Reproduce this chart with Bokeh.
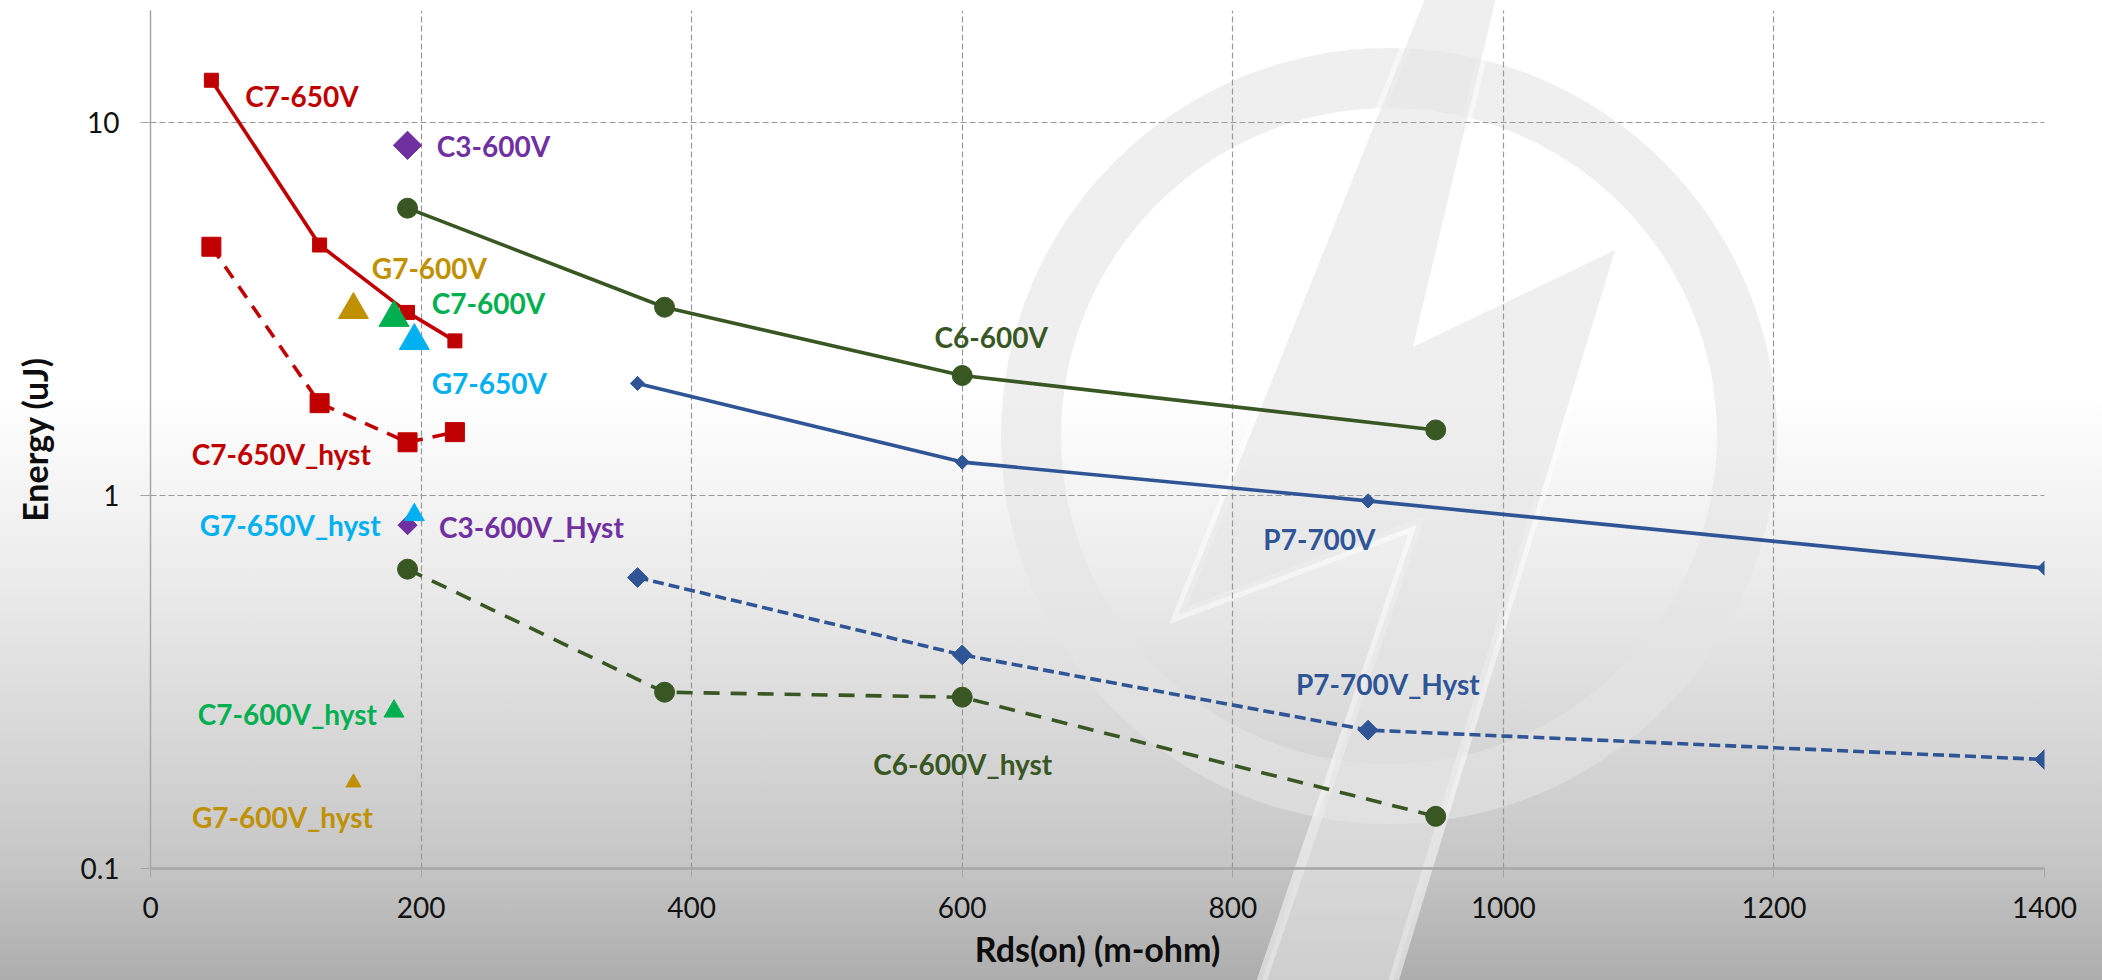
import math
import urllib.parse
from bokeh.plotting import figure
from bokeh.models import Range1d, FixedTicker, CustomJSTickFormatter, ColumnDataSource
from bokeh.core.properties import value
from bokeh.embed import file_html
from bokeh.resources import INLINE

# ---------------- data ----------------
c7_650_x = [45, 125, 190, 225]
c7_650_y = [13.0, 4.7, 3.1, 2.6]
c7_650_hyst_y = [4.65, 1.77, 1.39, 1.48]

c6_600_x = [190, 380, 600, 950]
c6_600_y = [5.9, 3.2, 2.1, 1.5]
c6_600_hyst_y = [0.635, 0.297, 0.288, 0.138]

p7_700_x = [360, 600, 900, 1400]
p7_700_y = [2.0, 1.23, 0.968, 0.639]
p7_700_hyst_y = [0.603, 0.374, 0.235, 0.196]

c3_600_x = [190]
c3_600_y = [8.7]
c3_600_hyst_y = [0.833]

g7_600_x = [150]
g7_600_y = [3.15]
g7_600_hyst_y = [0.17]

c7_600_x = [180]
c7_600_y = [3.0]
c7_600_hyst_y = [0.264]

g7_650_x = [195]
g7_650_y = [2.6]
g7_650_hyst_y = [0.888]

x_ticks = [0, 200, 400, 600, 800, 1000, 1200, 1400]
y_ticks = [0.1, 1, 10]

label_text = ["C7-650V", "C3-600V", "G7-600V", "C7-600V", "G7-650V",
              "C7-650V_hyst", "G7-650V_hyst", "C3-600V_Hyst", "C7-600V_hyst",
              "G7-600V_hyst", "C6-600V", "C6-600V_hyst", "P7-700V", "P7-700V_Hyst"]

# ---------------- styles ----------------
RED = "#C00000"
PURPLE = "#7030A0"
GOLD = "#BF9000"
GREEN = "#00B050"
CYAN = "#00B0F0"
DKGREEN = "#385723"
BLUE = "#2F5597"

label_color = [RED, PURPLE, GOLD, GREEN, CYAN, RED, CYAN, PURPLE, GREEN, GOLD,
               DKGREEN, DKGREEN, BLUE, BLUE]
label_x = [70, 211.6, 163.6, 207.9, 207.9, 30.5, 36.4, 213.2, 35.0, 30.7,
           579.5, 534.2, 822.6, 846.7]
label_y = [11.82, 8.68, 4.09, 3.29, 2.01, 1.296, 0.836, 0.824, 0.26, 0.1374,
           2.667, 0.191, 0.763, 0.3124]

W, H = 2102, 980

p = figure(width=W, height=H, output_backend="svg", toolbar_location=None,
           x_range=Range1d(0, 1400), y_range=Range1d(0.1, 20), y_axis_type="log",
           min_border_left=150, min_border_right=58, min_border_top=10,
           min_border_bottom=112)
p.outline_line_color = None
p.background_fill_color = None
p.border_fill_color = None

# background: gradient + faint logo watermark (decoration only)
cx, cy, R, r = 1389, 436, 388, 328
ring = (f"M{cx-R},{cy} a{R},{R} 0 1,0 {2*R},0 a{R},{R} 0 1,0 {-2*R},0 Z "
        f"M{cx-r},{cy} a{r},{r} 0 1,0 {2*r},0 a{r},{r} 0 1,0 {-2*r},0 Z")
bolt = "1427.6,-8 1497.4,-8 1412.9,346.9 1615,250 1390.8,990 1258.6,990 1416.6,525 1177.8,615.6"
svg = (f'<svg xmlns="http://www.w3.org/2000/svg" width="{W}" height="{H}" viewBox="0 0 {W} {H}">'
       f'<path d="{ring}" fill="rgba(228,228,228,0.6)" fill-rule="evenodd"/>'
       f'<polygon points="{bolt}" fill="rgba(228,228,228,0.6)" stroke="rgba(255,255,255,0.5)" '
       f'stroke-width="10" stroke-linejoin="miter" paint-order="stroke"/></svg>')
svg_url = 'url("data:image/svg+xml,' + urllib.parse.quote(svg) + '")'
grad = ("linear-gradient(to bottom, #ffffff 0%, #ffffff 40%, #ececec 58%, "
        "#d9d9d9 74%, #c6c6c6 88%, #adadad 100%)")
p.styles = {"background": f"{svg_url} no-repeat, {grad}"}

# axes
p.xaxis.ticker = FixedTicker(ticks=x_ticks)
p.yaxis.ticker = FixedTicker(ticks=y_ticks)
p.yaxis.formatter = CustomJSTickFormatter(code="return tick.toString();")
for ax in (p.xaxis[0], p.yaxis[0]):
    ax.axis_line_color = "#a6a6a6"
    ax.major_tick_line_color = "#a6a6a6"
    ax.minor_tick_line_color = None
    ax.major_tick_in = 0
    ax.major_label_text_font = "Lato"
    ax.major_label_text_font_size = "28px"
    ax.major_label_text_color = "#111111"
    ax.axis_label_text_font = "Lato"
    ax.axis_label_text_font_style = "bold"
    ax.axis_label_text_font_size = "34px"
    ax.axis_label_text_color = "#0d0d0d"
p.xaxis.axis_line_width = 2.5
p.yaxis.axis_line_width = 1.5
p.xaxis.major_tick_out = 9
p.yaxis.major_tick_out = 10
p.xaxis.major_label_standoff = 19
p.yaxis.major_label_standoff = 21
p.xaxis.axis_label = "Rds(on) (m-ohm)"
p.yaxis.axis_label = "Energy (uJ)"
p.xaxis.axis_label_standoff = 7
p.yaxis.axis_label_standoff = 22

for g in (p.xgrid[0], p.ygrid[0]):
    g.grid_line_color = "#999999"
    g.grid_line_dash = "6 3"
    g.grid_line_width = 1.2

# ---------------- series ----------------
LW = 3.6
# C6-600V
p.line(c6_600_x, c6_600_y, line_color=DKGREEN, line_width=LW)
p.scatter(c6_600_x, c6_600_y, marker="circle", size=20, color=DKGREEN)
p.line(c6_600_x, c6_600_hyst_y, line_color=DKGREEN, line_width=LW, line_dash="16 11")
p.scatter(c6_600_x, c6_600_hyst_y, marker="circle", size=20, color=DKGREEN)

# P7-700V
p.line(p7_700_x, p7_700_y, line_color=BLUE, line_width=LW)
p.scatter(p7_700_x, p7_700_y, marker="square", angle=math.pi / 4, size=10, color=BLUE)
p.line(p7_700_x, p7_700_hyst_y, line_color=BLUE, line_width=LW, line_dash="11 5")
p.scatter(p7_700_x, p7_700_hyst_y, marker="square", angle=math.pi / 4, size=14, color=BLUE)

# C7-650V
p.line(c7_650_x, c7_650_y, line_color=RED, line_width=LW)
p.scatter(c7_650_x, c7_650_y, marker="square", size=14, color=RED)
p.line(c7_650_x, c7_650_hyst_y, line_color=RED, line_width=LW, line_dash="14 10")
p.scatter(c7_650_x, c7_650_hyst_y, marker="square", size=19, color=RED)

# single-point series
p.scatter(c3_600_x, c3_600_y, marker="square", angle=math.pi / 4, size=20, color=PURPLE)
p.scatter(c3_600_x, c3_600_hyst_y, marker="square", angle=math.pi / 4, size=13.5, color=PURPLE)
p.scatter(g7_600_x, g7_600_y, marker="triangle", size=30, color=GOLD)
p.scatter(g7_600_x, g7_600_hyst_y, marker="triangle", size=15, color=GOLD)
p.scatter(c7_600_x, c7_600_y, marker="triangle", size=30, color=GREEN)
p.scatter(c7_600_x, c7_600_hyst_y, marker="triangle", size=20, color=GREEN)
p.scatter(g7_650_x, g7_650_y, marker="triangle", size=30, color=CYAN)
p.scatter(g7_650_x, g7_650_hyst_y, marker="triangle", size=20, color=CYAN)

# data labels
lab = ColumnDataSource(dict(x=label_x, y=label_y, text=label_text, color=label_color))
p.text(x="x", y="y", text="text", text_color="color", source=lab,
       text_font=value("Lato"), text_font_style="bold", text_font_size="28px",
       text_baseline="middle", text_align="left")

open("out.html", "w").write(file_html(p, INLINE))
